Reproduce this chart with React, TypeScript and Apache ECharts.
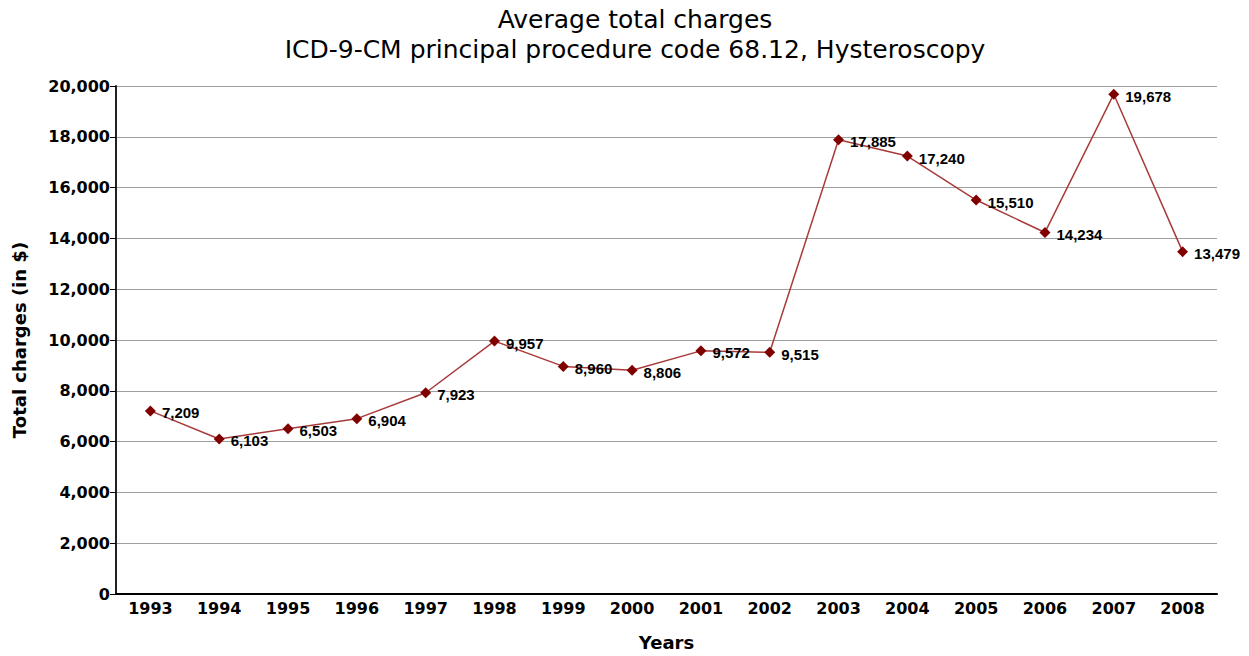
import React, { useEffect, useRef } from "react";
import * as echarts from "echarts";

const years = ["1993","1994","1995","1996","1997","1998","1999","2000","2001","2002","2003","2004","2005","2006","2007","2008"];
const charges = [7209, 6103, 6503, 6904, 7923, 9957, 8960, 8806, 9572, 9515, 17885, 17240, 15510, 14234, 19678, 13479];

const FONT = "'DejaVu Sans', sans-serif";
const LABEL_FONT = "Arial, 'Liberation Sans', sans-serif";

export default function App() {
  const ref = useRef<HTMLDivElement>(null);
  useEffect(() => {
    document.body.style.margin = "0";
    document.body.style.overflow = "hidden";
    const chart = echarts.init(ref.current!, null, { renderer: "svg" });
    chart.setOption({
      animation: false,
      backgroundColor: "#ffffff",
      title: {
        text: "Average total charges\nICD-9-CM principal procedure code 68.12, Hysteroscopy",
        left: 630,
        textAlign: "center",
        top: -1,
        textStyle: { fontFamily: FONT, fontSize: 25, fontWeight: "normal", color: "#000", lineHeight: 30 },
      },
      grid: { left: 116, right: 32, top: 86, bottom: 51 },
      xAxis: {
        type: "category",
        data: years,
        boundaryGap: true,
        name: "Years",
        nameLocation: "middle",
        nameGap: 39,
        nameTextStyle: { fontFamily: FONT, fontWeight: "bold", fontSize: 18, color: "#000" },
        axisLine: { lineStyle: { color: "#000", width: 2 } },
        axisTick: { alignWithLabel: true, length: 6, lineStyle: { color: "#000", width: 1 } },
        axisLabel: { fontFamily: FONT, fontWeight: "bold", fontSize: 16, color: "#000", margin: 6 },
        splitLine: { show: false },
      },
      yAxis: {
        type: "value",
        min: 0,
        max: 20000,
        interval: 2000,
        name: "Total charges (in $)",
        nameLocation: "middle",
        nameGap: 88,
        nameTextStyle: { fontFamily: FONT, fontWeight: "bold", fontSize: 18, color: "#000" },
        axisLine: { show: true, lineStyle: { color: "#222", width: 2 } },
        axisTick: { show: true, length: 6, lineStyle: { color: "#000" } },
        axisLabel: {
          fontFamily: FONT, fontWeight: "bold", fontSize: 16, color: "#000", margin: 6,
          formatter: (v: number) => v.toLocaleString("en-US"),
        },
        splitLine: { lineStyle: { color: "#a0a0a0", width: 1 } },
      },
      series: [
        {
          type: "line",
          data: charges,
          symbol: "diamond",
          symbolSize: 11,
          itemStyle: { color: "#800000" },
          lineStyle: { color: "#a83a3a", width: 1.5 },
          label: {
            show: true,
            position: "right",
            distance: 6,
            offset: [0, 2],
            fontFamily: LABEL_FONT,
            fontWeight: "bold",
            fontSize: 15,
            color: "#000",
            formatter: (p: any) => Number(p.value).toLocaleString("en-US"),
          },
        },
      ],
    });
    return () => chart.dispose();
  }, []);
  return <div ref={ref} style={{ width: 1249, height: 656 }} />;
}
